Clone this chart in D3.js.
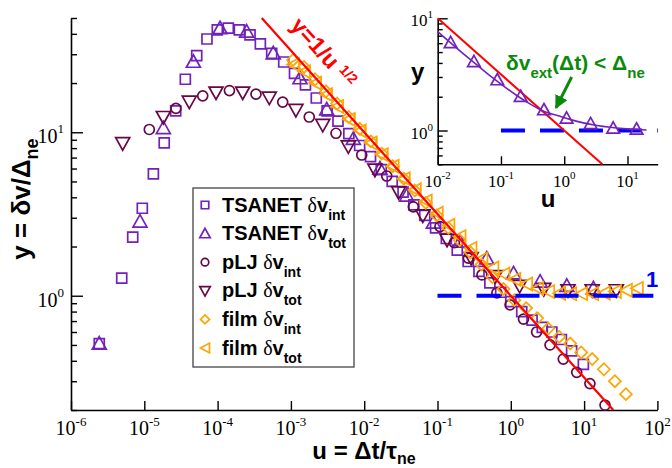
<!DOCTYPE html>
<html><head><meta charset="utf-8">
<script src="https://cdn.jsdelivr.net/npm/d3@7"></script>
<style>html,body{margin:0;padding:0;background:#fff}svg{display:block}</style>
</head><body>
<svg id="c" width="672" height="468"></svg>
<script>
// ---------------- data ----------------
const tsanetIntU = [2.43e-6,4.92e-6,6.95e-6,9.39e-6,1.33e-5,1.87e-5,2.68e-5,3.63e-5,5.19e-5,7.16e-5,9.91e-5,1.40e-4,1.98e-4,2.77e-4,3.83e-4,5.47e-4,7.98e-4,1.12e-3,1.58e-3,2.22e-3,3.12e-3,4.39e-3,6.17e-3,8.67e-3,1.22e-2,1.71e-2,2.41e-2,3.39e-2,4.76e-2,6.70e-2,9.42e-2,0.132,0.186,0.262,0.368,0.518,0.728,1.0,1.41,1.95,2.69,3.63,4.90,6.76,9.77];
const tsanetIntY = [0.51,1.28,2.28,3.43,5.56,8.6,13.5,21.1,29.4,37.2,42.3,43.3,42.3,39.4,34.7,30.4,26.9,22.9,19.5,16.2,13.5,11.7,9.8,8.3,7.1,5.9,5.0,4.3,3.6,3.1,2.6,2.24,1.9,1.62,1.41,1.2,1.05,0.92,0.80,0.71,0.64,0.60,0.54,0.46,0.38];

const tsanetTotU = [2.43e-6,8.73e-6,1.82e-5,4.67e-5,1.08e-4,2.49e-4,5.75e-4,1.33e-3,3.08e-3,7.11e-3,1.64e-2,3.80e-2,8.79e-2,0.203,0.470,1.09,2.51,5.81,13.4];
const tsanetTotY = [0.51,2.84,10.6,27.0,43.3,41.3,30.4,21.4,13.8,9.1,6.0,4.1,2.8,2.14,1.69,1.37,1.22,1.15,1.11];

const pljIntU = [1.17e-5,2.70e-5,6.27e-5,1.45e-4,3.34e-4,7.73e-4,1.78e-3,4.12e-3,9.25e-3,2.03e-2,4.68e-2,0.108,0.170,0.263,0.404,0.646,0.977,1.49,2.25,3.43,5.20,7.93,12.0,19.3];
const pljIntY = [10.4,14.0,16.7,18.0,17.1,15.3,12.4,9.86,7.26,5.4,3.5,2.65,2.11,1.70,1.34,1.04,0.88,0.72,0.60,0.50,0.41,0.34,0.29,0.214];

const pljTotU = [5.07e-6,1.82e-5,4.11e-5,9.51e-5,2.20e-4,5.07e-4,1.17e-3,2.72e-3,6.07e-3,1.40e-2,2.95e-2,6.31e-2,0.135,0.288,0.617,1.32,2.82,6.03,12.9,27.5];
const pljTotY = [8.57,12.4,15.4,17.5,17.5,16.3,13.7,11.1,8.2,5.9,4.3,3.1,2.2,1.70,1.32,1.15,1.10,1.08,1.08,1.08];

const filmIntU = [1.07e-3,1.51e-3,2.14e-3,3.02e-3,4.27e-3,6.17e-3,8.71e-3,1.23e-2,1.74e-2,2.45e-2,3.47e-2,4.90e-2,6.92e-2,9.77e-2,0.141,0.200,0.282,0.398,0.562,0.794,1.12,1.62,2.29,3.24,4.57,6.46,9.12,12.9,18.6,26.3,37.2];
const filmIntY = [27.7,25.1,21.1,17.8,15.0,12.4,10.5,8.8,7.4,6.2,5.2,4.4,3.7,3.1,2.6,2.19,1.84,1.55,1.30,1.10,0.94,0.84,0.73,0.63,0.56,0.51,0.45,0.41,0.355,0.30,0.25];

const filmTotU = [1.07e-3,1.51e-3,2.14e-3,3.02e-3,4.27e-3,6.17e-3,8.71e-3,1.23e-2,1.74e-2,2.45e-2,3.47e-2,4.90e-2,6.92e-2,9.77e-2,0.141,0.200,0.282,0.398,0.562,0.794,1.12,1.62,2.29,3.24,4.57,6.46,9.12,12.9,18.6,26.3,37.2,52.5];
const filmTotY = [26.0,23.5,20.0,17.0,14.4,12.0,10.2,8.6,7.3,6.2,5.2,4.45,3.8,3.2,2.7,2.3,1.95,1.68,1.48,1.36,1.26,1.18,1.11,1.06,1.035,1.03,1.03,1.03,1.04,1.06,1.08,1.11];

// reference lines
const powerLawU = [4e-4, 25];          // y = 1/u^(1/2)
const plateauU = [0.1, 88];            // y = 1
const insetPowerLawU = [0.01, 4];
const insetPlateauU = [0.1, 30];

// inset
const insetTriU = [0.016,0.0374,0.0875,0.205,0.478,1.09,2.61,5.94,13.9];
const insetTriY = [6.07,4.11,2.83,2.01,1.53,1.29,1.15,1.05,1.03];
const insetFitU = [0.01,0.016,0.027,0.043,0.07,0.11,0.18,0.3,0.48,0.78,1.26,2,3.3,5.3,8.6,14,20];
const insetFitY = [7.62,6.05,4.70,3.78,3.02,2.49,2.04,1.70,1.48,1.36,1.25,1.17,1.11,1.07,1.04,1.02,1.01];

// ticks
const xMajor = [1e-6,1e-5,1e-4,1e-3,1e-2,1e-1,1,10,100];
const xExp = ["-6","-5","-4","-3","-2","-1","0","1","2"];
const yMajor = [1,10];
const yExp = ["0","1"];
const yMinor = [0.2,0.3,0.4,0.5,0.6,0.7,0.8,0.9,2,3,4,5,6,7,8,9,20,30,40,50];
const ixMajor = [0.01,0.1,1,10];
const ixExp = ["-2","-1","0","1"];
const iyMajor = [1,10];
const iyExp = ["0","1"];
const iyMinor = [0.5,0.6,0.7,0.8,0.9,2,3,4,5,6,7,8,9];

const legendNames = ["TSANET","TSANET","pLJ","pLJ","film","film"];
const legendSubs = ["int","tot","int","tot","int","tot"];

// annotation anchors (data units)
const powerLabelAt = [9.6e-4, 44.5];
const oneLabelAt = [70, 1];
const arrowFrom = [1.31, 3.0];
const arrowTo = [0.74, 1.59];

// ---------------- drawing ----------------
const C_IND = "#7221bc", C_MAR = "#670748", C_ORA = "#ffa500";
const SANS = "Liberation Sans, Arial, Helvetica, sans-serif";
const SERIF = "Liberation Serif, Times New Roman, serif";
const svg = d3.select("#c");

const x = d3.scaleLog().domain([1e-6,1e2]).range([71,657.4]);
const y = d3.scaleLog().domain([0.2,50]).range([410,18]);
const ix = d3.scaleLog().domain([0.01,30]).range([437.7,657.7]);
const iy = d3.scaleLog().domain([0.5,10]).range([164.3,18.3]);

const SH = {
  sq: "M-5,-5h10v10h-10Z",
  tu: "M0,-7L7,5.5L-7,5.5Z",
  td: "M0,7L7,-5.5L-7,-5.5Z",
  ci: "M5,0A5,5 0 1,1 -5,0A5,5 0 1,1 5,0Z",
  di: "M0,-6L6,0L0,6L-6,0Z",
  tl: "M-6,0L6,-6.5L6,6.5Z"
};

function markers(g, xs, ys, us, vs, shape, color, k) {
  g.append("g").selectAll("path").data(d3.zip(us, vs)).join("path")
    .attr("d", SH[shape])
    .attr("transform", d => `translate(${xs(d[0])},${ys(d[1])}) scale(${k})`)
    .attr("fill", "none").attr("stroke", color).attr("stroke-width", 1.7 / k);
}

function axisStyle(g) {
  g.selectAll("path.domain").attr("stroke", "#000").attr("stroke-width", 1.6);
  g.selectAll(".tick line").attr("stroke", "#000").attr("stroke-width", 1.4);
  g.selectAll(".tick text").remove();
}

function powLabels(g, vals, exps, px, py, anchor, fs, efs, edy) {
  vals.forEach((v, i) => {
    const t = g.append("text").attr("x", px(v)).attr("y", py(v))
      .attr("text-anchor", anchor).attr("font-family", SERIF)
      .attr("font-size", fs).attr("fill", "#000");
    t.append("tspan").text("10");
    t.append("tspan").attr("font-size", efs).attr("dy", edy).text(exps[i]);
  });
}

// main axes
const gx = svg.append("g").attr("transform", "translate(0,410)");
gx.call(d3.axisBottom(x).tickValues(xMajor).tickSizeInner(-9).tickSizeOuter(0).tickFormat(""));
axisStyle(gx);
const gy = svg.append("g").attr("transform", "translate(71,0)");
gy.call(d3.axisLeft(y).tickValues(yMajor).tickSizeInner(-12).tickSizeOuter(0).tickFormat(""));
axisStyle(gy);
const gym = svg.append("g").attr("transform", "translate(71,0)");
gym.call(d3.axisLeft(y).tickValues(yMinor).tickSizeInner(-6).tickSizeOuter(0).tickFormat(""));
axisStyle(gym);
gym.select("path.domain").remove();

powLabels(svg, xMajor, xExp, v => x(v), v => 435, "middle", 20, 13, -9);
powLabels(svg, yMajor, yExp, v => 64, v => y(v) + 11, "end", 20, 13, -10);

// axis titles
const xt = svg.append("text").attr("x", 364).attr("y", 459).attr("text-anchor", "middle")
  .attr("font-family", SANS).attr("font-weight", "bold").attr("font-size", 24);
xt.append("tspan").text("u = Δt/τ");
xt.append("tspan").attr("font-size", 16).attr("dy", 5).text("ne");

const yt = svg.append("text").attr("transform", "translate(30,199) rotate(-90)").attr("text-anchor", "middle")
  .attr("font-family", SANS).attr("font-weight", "bold").attr("font-size", 26);
yt.append("tspan").text("y = δv/Δ");
yt.append("tspan").attr("font-size", 18).attr("dy", 8).text("ne");

// main data
const gm = svg.append("g");
markers(gm, x, y, tsanetIntU, tsanetIntY, "sq", C_IND, 1);
markers(gm, x, y, tsanetTotU, tsanetTotY, "tu", C_IND, 1);
markers(gm, x, y, pljIntU, pljIntY, "ci", C_MAR, 1);
markers(gm, x, y, pljTotU, pljTotY, "td", C_MAR, 1);
markers(gm, x, y, filmIntU, filmIntY, "di", C_ORA, 1);
markers(gm, x, y, filmTotU, filmTotY, "tl", C_ORA, 1);

// reference lines
const line = (xs, ys) => d3.line().x(d => xs(d[0])).y(d => ys(d[1]));
svg.append("path").datum(plateauU.map(u => [u, 1]))
  .attr("d", line(x, y)).attr("fill", "none").attr("stroke", "#0000ff")
  .attr("stroke-width", 4).attr("stroke-dasharray", "24,15");
svg.append("path").datum(powerLawU.map(u => [u, 1 / Math.sqrt(u)]))
  .attr("d", line(x, y)).attr("fill", "none").attr("stroke", "#ff0000").attr("stroke-width", 2.2);

// annotations main
const rl = svg.append("text")
  .attr("transform", `translate(${x(powerLabelAt[0])},${y(powerLabelAt[1])}) rotate(48)`)
  .attr("font-family", SANS).attr("font-weight", "bold").attr("font-size", 23).attr("fill", "#ff0000");
rl.append("tspan").text("y=1/u");
rl.append("tspan").attr("font-size", 14).attr("dx", 6).attr("dy", -7).text("1/2");

svg.append("text").attr("x", x(oneLabelAt[0])).attr("y", y(oneLabelAt[1]) - 9)
  .attr("font-family", SANS).attr("font-weight", "bold").attr("font-size", 22).attr("fill", "#0000ff").text("1");

// legend
const lg = svg.append("g");
lg.append("rect").attr("x", 193).attr("y", 188).attr("width", 161).attr("height", 179)
  .attr("fill", "#fff").attr("stroke", "#444").attr("stroke-width", 1.3);
const legShapes = ["sq","tu","ci","td","di","tl"];
const legColors = [C_IND, C_IND, C_MAR, C_MAR, C_ORA, C_ORA];
legendNames.forEach((nm, i) => {
  const ry = 205 + i * 28.6;
  lg.append("path").attr("d", SH[legShapes[i]])
    .attr("transform", `translate(205,${ry}) scale(0.75)`)
    .attr("fill", "none").attr("stroke", legColors[i]).attr("stroke-width", 1.7 / 0.75);
  const t = lg.append("text").attr("x", 222).attr("y", ry + 6.5)
    .attr("font-family", SANS).attr("font-weight", "bold").attr("font-size", 20).attr("fill", "#000");
  t.append("tspan").text(nm + " ");
  t.append("tspan").attr("font-family", SERIF).attr("font-weight", "normal").text("δ");
  t.append("tspan").text("v");
  t.append("tspan").attr("font-size", 14).attr("dy", 8).text(legendSubs[i]);
});

// ---------------- inset ----------------
const ig = svg.append("g");
const igx = ig.append("g").attr("transform", "translate(0,164.3)");
igx.call(d3.axisBottom(ix).tickValues(ixMajor).tickSizeInner(-8).tickSizeOuter(0).tickFormat(""));
axisStyle(igx);
const igy = ig.append("g").attr("transform", "translate(437.7,0)");
igy.call(d3.axisLeft(iy).tickValues(iyMajor).tickSizeInner(-10).tickSizeOuter(0).tickFormat(""));
axisStyle(igy);
const igym = ig.append("g").attr("transform", "translate(437.7,0)");
igym.call(d3.axisLeft(iy).tickValues(iyMinor).tickSizeInner(-5).tickSizeOuter(0).tickFormat(""));
axisStyle(igym);
igym.select("path.domain").remove();

powLabels(ig, ixMajor, ixExp, v => ix(v), v => 187, "middle", 17, 11, -8);
powLabels(ig, iyMajor, iyExp, v => 433, v => iy(v) + 8, "end", 17, 11, -8);

ig.append("text").attr("x", 411).attr("y", 80).attr("font-family", SANS).attr("font-weight", "bold")
  .attr("font-size", 24).text("y");
ig.append("text").attr("x", 548).attr("y", 207).attr("text-anchor", "middle").attr("font-family", SANS)
  .attr("font-weight", "bold").attr("font-size", 24).text("u");

ig.append("path").datum(insetPlateauU.map(u => [u, 1]))
  .attr("d", line(ix, iy)).attr("fill", "none").attr("stroke", "#0000ff")
  .attr("stroke-width", 4).attr("stroke-dasharray", "24,15");
ig.append("path").datum(insetPowerLawU.map(u => [u, 1 / Math.sqrt(u)]))
  .attr("d", line(ix, iy)).attr("fill", "none").attr("stroke", "#ff0000").attr("stroke-width", 2);
ig.append("path").datum(d3.zip(insetFitU, insetFitY))
  .attr("d", d3.line().x(d => ix(d[0])).y(d => iy(d[1])).curve(d3.curveMonotoneX))
  .attr("fill", "none").attr("stroke", C_IND).attr("stroke-width", 1.6);
markers(ig, ix, iy, insetTriU, insetTriY, "tu", C_IND, 0.9);

// green annotation
const gt = ig.append("text").attr("x", 506).attr("y", 70).attr("font-family", SANS)
  .attr("font-weight", "bold").attr("font-size", 21).attr("fill", "#0a8a0a");
gt.append("tspan").text("δv");
gt.append("tspan").attr("font-size", 15).attr("dy", 8).text("ext");
gt.append("tspan").attr("dy", -8).text("(Δt) < Δ");
gt.append("tspan").attr("font-size", 15).attr("dy", 8).text("ne");

const defs = svg.append("defs");
defs.append("marker").attr("id", "ah").attr("viewBox", "0 0 10 10").attr("refX", 9).attr("refY", 5)
  .attr("markerWidth", 4.5).attr("markerHeight", 4.5).attr("orient", "auto-start-reverse")
  .append("path").attr("d", "M0,0L10,5L0,10Z").attr("fill", "#0a8a0a");
ig.append("path").attr("d", `M${ix(arrowFrom[0])},${iy(arrowFrom[1])}L${ix(arrowTo[0])},${iy(arrowTo[1])}`)
  .attr("stroke", "#0a8a0a").attr("stroke-width", 3).attr("fill", "none").attr("marker-end", "url(#ah)");
</script>
</body></html>
